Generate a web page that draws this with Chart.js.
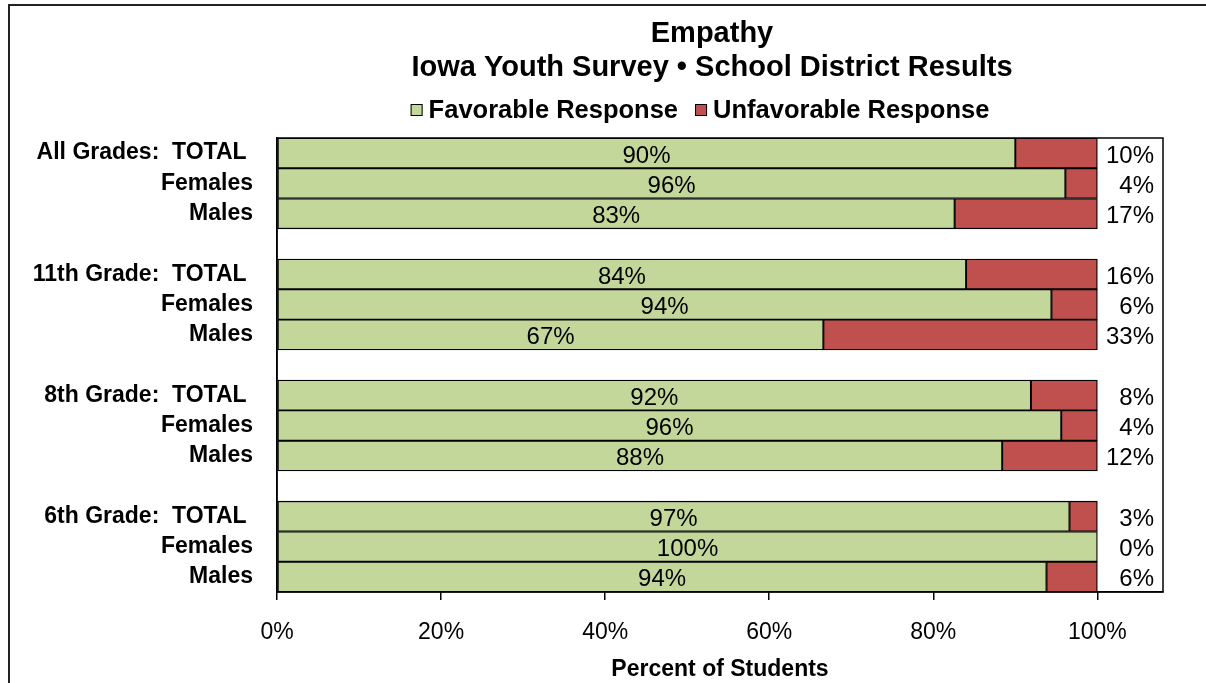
<!DOCTYPE html>
<html><head><meta charset="utf-8">
<script src="https://cdn.jsdelivr.net/npm/chart.js@4.4.1/dist/chart.umd.min.js"></script>
<style>html,body{margin:0;padding:0;background:#fff;}#wrap{width:1206px;height:683px;}</style>
</head><body><div id="wrap"><canvas id="c" width="1206" height="683"></canvas></div>
<script>
const titleLines = ['Empathy', 'Iowa Youth Survey \u2022 School District Results'];
const categories = ['All Grades:  TOTAL ', 'Females', 'Males', '',
  '11th Grade:  TOTAL ', 'Females', 'Males', '',
  '8th Grade:  TOTAL ', 'Females', 'Males', '',
  '6th Grade:  TOTAL ', 'Females', 'Males'];
const seriesNames = ['Favorable Response', 'Unfavorable Response'];
const favorable   = [90.0, 96.1, 82.6, null, 84.0, 94.4, 66.6, null, 91.9, 95.6, 88.4, null, 96.6, 100, 93.8];
const unfavorable = [10.0,  3.9, 17.4, null, 16.0,  5.6, 33.4, null,  8.1,  4.4, 11.6, null,  3.4,   0,  6.2];
const xTicks = [0, 20, 40, 60, 80, 100];
const axisTitle = 'Percent of Students';

const FONT = '"Liberation Sans", Arial, sans-serif';
const GREEN = '#C4D79B', RED = '#C0504D';

const decor = {
  id: 'decor',
  beforeDraw(chart) {
    const ctx = chart.ctx;
    ctx.save();
    ctx.fillStyle = '#fff';
    ctx.fillRect(0, 0, chart.width, chart.height);
    // outer frame
    ctx.strokeStyle = '#222';
    ctx.lineWidth = 2;
    ctx.beginPath();
    ctx.moveTo(9, chart.height);
    ctx.lineTo(9, 5);
    ctx.lineTo(chart.width, 5);
    ctx.stroke();
    // titles
    ctx.fillStyle = '#000';
    ctx.textAlign = 'center';
    ctx.textBaseline = 'middle';
    ctx.font = 'bold 29px ' + FONT;
    ctx.fillText(titleLines[0], 712, 34);
    ctx.fillText(titleLines[1], 712, 68);
    // legend
    ctx.font = 'bold 25.5px ' + FONT;
    const colors = [GREEN, RED];
    const sq = 12, g1 = 6, g2 = 17;
    const w = seriesNames.map(s => ctx.measureText(s).width);
    const total = sq + g1 + w[0] + g2 + sq + g1 + w[1];
    let x = 700 - total / 2;
    const ly = 110;
    ctx.textAlign = 'left';
    seriesNames.forEach((s, i) => {
      ctx.fillStyle = colors[i];
      ctx.fillRect(x, ly - 6, sq, sq);
      ctx.strokeStyle = '#000';
      ctx.lineWidth = 1;
      ctx.strokeRect(x + 0.5, ly - 5.5, sq - 1, sq - 1);
      ctx.fillStyle = '#000';
      ctx.fillText(s, x + sq + g1, ly + 1);
      x += sq + g1 + w[i] + g2;
    });
    ctx.restore();
  },
  afterDatasetsDraw(chart) {
    const ctx = chart.ctx;
    const a = chart.chartArea;
    ctx.save();
    // plot area box
    ctx.strokeStyle = '#000';
    ctx.lineWidth = 1.5;
    ctx.strokeRect(a.left, a.top, a.right - a.left, a.bottom - a.top);
    // labels
    ctx.font = '24px ' + FONT;
    ctx.fillStyle = '#000';
    ctx.textBaseline = 'middle';
    const m0 = chart.getDatasetMeta(0);
    const m1 = chart.getDatasetMeta(1);
    m0.data.forEach((el, i) => {
      if (favorable[i] == null) return;
      ctx.textAlign = 'center';
      ctx.fillText(Math.round(favorable[i]) + '%', (el.x + el.base) / 2, el.y + 3);
    });
    m1.data.forEach((el, i) => {
      if (unfavorable[i] == null) return;
      ctx.textAlign = 'right';
      ctx.fillText(Math.round(unfavorable[i]) + '%', a.right - 9, el.y + 3);
    });
    ctx.restore();
  }
};

new Chart(document.getElementById('c'), {
  type: 'bar',
  data: {
    labels: categories,
    datasets: [
      { label: seriesNames[0], data: favorable, backgroundColor: GREEN, borderColor: '#000', borderWidth: 1.3, borderSkipped: false, barPercentage: 1, categoryPercentage: 1 },
      { label: seriesNames[1], data: unfavorable, backgroundColor: RED, borderColor: '#000', borderWidth: 1.3, borderSkipped: false, barPercentage: 1, categoryPercentage: 1 }
    ]
  },
  options: {
    indexAxis: 'y',
    responsive: false,
    animation: false,
    devicePixelRatio: 1,
    layout: { padding: { top: 138, right: 43, left: 0, bottom: 0 } },
    plugins: { legend: { display: false }, title: { display: false }, tooltip: { enabled: false } },
    scales: {
      x: {
        type: 'linear', stacked: true, min: 0, max: 108,
        afterBuildTicks(scale) { scale.ticks = xTicks.map(v => ({ value: v })); },
        afterFit(scale) { scale.height = 91; },
        grid: { display: true, drawOnChartArea: false, drawTicks: true, tickLength: 8, color: '#000', lineWidth: 1.5 },
        border: { display: true, color: '#000', width: 1.5 },
        ticks: { color: '#000', font: { family: FONT, size: 23 }, padding: 19, maxRotation: 0, autoSkip: false, callback: v => v + '%' },
        title: { display: true, text: axisTitle, color: '#000', font: { family: FONT, size: 23, weight: 'bold' }, padding: { top: 0, bottom: 0 } }
      },
      y: {
        type: 'category', stacked: true,
        afterFit(scale) { scale.width = 277; },
        grid: { display: false, drawTicks: false },
        border: { display: true, color: '#000', width: 1.5 },
        ticks: { color: '#000', font: { family: FONT, size: 23, weight: 'bold' }, padding: 24, autoSkip: false }
      }
    }
  },
  plugins: [decor]
});
</script>
</body></html>
